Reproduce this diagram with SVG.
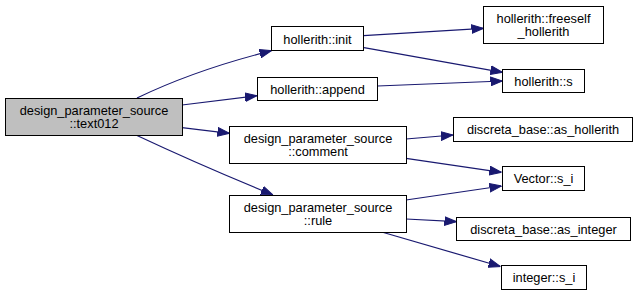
<svg xmlns="http://www.w3.org/2000/svg" width="639" height="296" viewBox="0 0 639 296">
  <style>
    .box { fill: #ffffff; stroke: #000000; stroke-width: 1; }
    .cur { fill: #bfbfbf; }
    .lbl { font-family: "Liberation Sans", Arial, Helvetica, sans-serif; font-size: 12.8px; fill: #000000; text-anchor: middle; }
    .edge { fill: none; stroke: #191970; stroke-width: 1.2; marker-end: url(#arrow); }
  </style>
  <defs>
    <marker id="arrow" markerUnits="userSpaceOnUse" markerWidth="12" markerHeight="10" viewBox="0 0 12 10" refX="12" refY="5" orient="auto">
      <polygon points="0,0.6 12,5 0,9.4" fill="#191970" stroke="#191970" stroke-width="1"/>
    </marker>
  </defs>

  <rect width="639" height="296" fill="#ffffff"/>

  <g id="connectors">
    <path class="edge" d="M137,98 Q195,70 271.5,50.7"/>
    <path class="edge" d="M182,105 L257,95.7"/>
    <path class="edge" d="M182,127.7 L229.5,133.3"/>
    <path class="edge" d="M137,135.5 Q200,165 273,195"/>
    <path class="edge" d="M363.5,35.7 L483.5,28.3"/>
    <path class="edge" d="M364,47.7 L502.5,72.3"/>
    <path class="edge" d="M377.5,86 L502.5,81"/>
    <path class="edge" d="M406,139 L453,135"/>
    <path class="edge" d="M406,158.3 L501.5,172.3"/>
    <path class="edge" d="M406,200 L501.5,186"/>
    <path class="edge" d="M406,219 L456.5,221.7"/>
    <path class="edge" d="M381.7,232 L500.5,266.5"/>
  </g>

  <g id="node-text012">
    <rect class="box cur" x="5.5" y="98.5" width="177" height="37"/>
    <text class="lbl" x="94" y="114.7">design_parameter_source</text>
    <text class="lbl" x="94" y="128.3">::text012</text>
  </g>
  <g id="node-init">
    <rect class="box" x="271.5" y="26.5" width="92" height="24"/>
    <text class="lbl" x="317.5" y="43.5">hollerith::init</text>
  </g>
  <g id="node-append">
    <rect class="box" x="257.5" y="77.5" width="120" height="23"/>
    <text class="lbl" x="317.5" y="94">hollerith::append</text>
  </g>
  <g id="node-comment">
    <rect class="box" x="229.5" y="126.5" width="177" height="37"/>
    <text class="lbl" x="318" y="142.5">design_parameter_source</text>
    <text class="lbl" x="318" y="156.2">::comment</text>
  </g>
  <g id="node-rule">
    <rect class="box" x="229.5" y="195.5" width="177" height="37"/>
    <text class="lbl" x="318" y="211.5">design_parameter_source</text>
    <text class="lbl" x="318" y="225.2">::rule</text>
  </g>
  <g id="node-freeself">
    <rect class="box" x="483.5" y="6.5" width="120" height="37"/>
    <text class="lbl" x="543.5" y="22.5">hollerith::freeself</text>
    <text class="lbl" x="543.5" y="36.2">_hollerith</text>
  </g>
  <g id="node-hollerith-s">
    <rect class="box" x="502.5" y="69.5" width="82" height="23"/>
    <text class="lbl" x="543.5" y="86">hollerith::s</text>
  </g>
  <g id="node-as-hollerith">
    <rect class="box" x="453.5" y="117.5" width="179" height="24"/>
    <text class="lbl" x="543" y="134">discreta_base::as_hollerith</text>
  </g>
  <g id="node-vector-s-i">
    <rect class="box" x="502.5" y="166.5" width="82" height="24"/>
    <text class="lbl" x="543.5" y="183">Vector::s_i</text>
  </g>
  <g id="node-as-integer">
    <rect class="box" x="456.5" y="217.5" width="174" height="23"/>
    <text class="lbl" x="543.5" y="234">discreta_base::as_integer</text>
  </g>
  <g id="node-integer-s-i">
    <rect class="box" x="501.5" y="265.5" width="85" height="24"/>
    <text class="lbl" x="544" y="282">integer::s_i</text>
  </g>
</svg>
